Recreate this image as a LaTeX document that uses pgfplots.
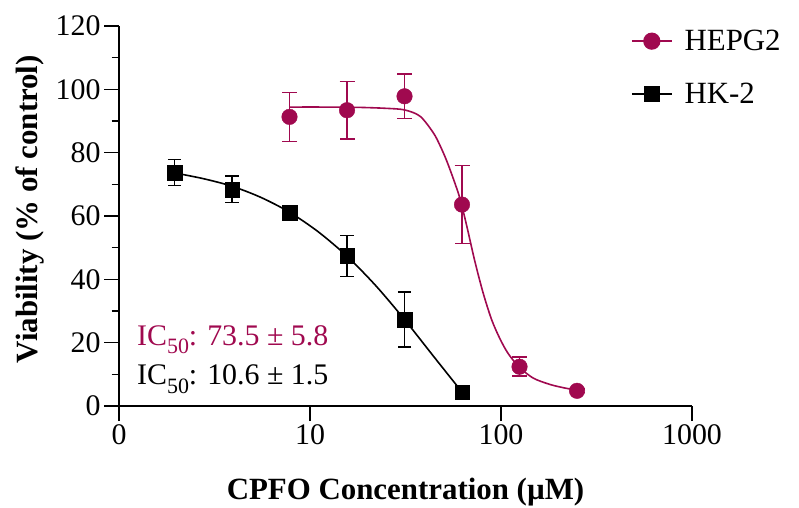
\documentclass[border=0pt]{standalone}
\usepackage{fontspec}
\setmainfont{Liberation Serif}
\usepackage{pgfplots}
\pgfplotsset{compat=1.18}
\definecolor{HEP}{HTML}{A0094F}

\pgfplotstableread{
x y e
7.8125 91.3 7.7
15.625 93.4 9.1
31.25 97.8 7.0
62.5 63.6 12.3
125 12.4 3.0
250 4.8 0.5
}\hepdata

\pgfplotstableread{
x y e
1.953125 73.7 4.1
3.90625 68.4 4.2
7.8125 61.1 1.0
15.625 47.4 6.5
31.25 27.3 8.7
62.5 4.4 0.8
}\hkdata

\begin{document}
\begin{tikzpicture}
\useasboundingbox (-119bp,-102bp) rectangle (680bp,406bp);
\begin{axis}[
  scale only axis, width=573bp, height=380bp,
  xmode=log, log basis x=10,
  xmin=1, xmax=1000, ymin=0, ymax=120,
  axis lines*=left,
  axis line style={line width=1.5bp, black},
  xtick={1,10,100,1000}, xticklabels={0,10,100,1000},
  ytick={0,20,...,120}, minor y tick num=1,
  tick align=outside,
  major tick length=15bp, minor tick length=7.5bp,
  every tick/.style={line width=1.5bp, black},
  tick label style={font=\fontsize{30}{30}\selectfont},
  /pgf/number format/assume math mode=true,
  xlabel={\bfseries CPFO Concentration (µM)},
  ylabel={\bfseries Viability (\% of control)},
  label style={font=\fontsize{31}{31}\selectfont},
  x label style={at={(axis description cs:0.5,-0.247)}, anchor=base},
  y label style={at={(axis description cs:-0.143,0.518)}, anchor=base},
  clip=false,
  legend style={draw=none, fill=none, at={(axis description cs:0.888,1.0)},
    anchor=north west, font=\fontsize{31}{31}\selectfont, row sep=27bp,
    legend cell align=left,
    /tikz/every odd column/.append style={column sep=10bp}},
  legend image code/.code={\draw[mark repeat=2,mark phase=2,#1]
    plot coordinates {(0bp,0bp) (20bp,0bp) (40bp,0bp)};},
]
\addlegendimage{HEP, line width=1.6bp, mark=*, mark size=7.8bp}
\addlegendentry{HEPG2}
\addlegendimage{black, line width=1.6bp, mark=square*, mark size=7.3bp}
\addlegendentry{HK-2}

% fitted curves
\addplot[HEP, line width=1.6bp, smooth, forget plot] coordinates {
  (7.8125,94.4) (12,94.4) (18,94.3) (25,94.0) (31.25,93.5) (37.7,91.5)
  (44.2,86.3) (48,82.2) (51.9,77.5) (56.5,71.5) (61,65.5) (66.1,57)
  (73.1,45.5) (80.8,35.5) (89.4,27.2) (98.8,21.2) (109.2,16.5) (125,12.2)
  (147.6,8.8) (180.6,6.8) (215,5.7) (250,5.0)
};
\addplot[black, line width=1.6bp, smooth, forget plot] coordinates {
  (1.953,73.6) (2.76,71.8) (3.906,69.4) (5.52,65.9) (7.8125,61.2)
  (11.05,55.0) (15.625,47.3) (22.1,38.0) (31.25,27.3) (44.2,15.8) (62.5,4.4)
};

% means with error bars
\addplot[HEP, only marks, mark=*, mark size=7.8bp, forget plot,
  error bars/.cd, y dir=both, y explicit,
  error bar style={line width=1.5bp},
  error mark options={rotate=90, mark size=7.5bp, line width=1.5bp}]
  table[x=x, y=y, y error=e] {\hepdata};
\addplot[black, only marks, mark=square*, mark size=7.3bp, forget plot,
  error bars/.cd, y dir=both, y explicit,
  error bar style={line width=1.5bp},
  error mark options={rotate=90, mark size=6.7bp, line width=1.5bp}]
  table[x=x, y=y, y error=e] {\hkdata};

\node[anchor=base west, text=HEP, font=\fontsize{30}{30}\selectfont, inner sep=0pt]
  at (rel axis cs:0.0314,0.1605)
  {IC\raisebox{-0.28em}{\fontsize{22}{22}\selectfont 50}: 73.5 ± 5.8};
\node[anchor=base west, text=black, font=\fontsize{30}{30}\selectfont, inner sep=0pt]
  at (rel axis cs:0.0314,0.0553)
  {IC\raisebox{-0.28em}{\fontsize{22}{22}\selectfont 50}: 10.6 ± 1.5};
\end{axis}
\draw[line width=1.5bp] (-15bp,0) -- (0,0);
\end{tikzpicture}
\end{document}
